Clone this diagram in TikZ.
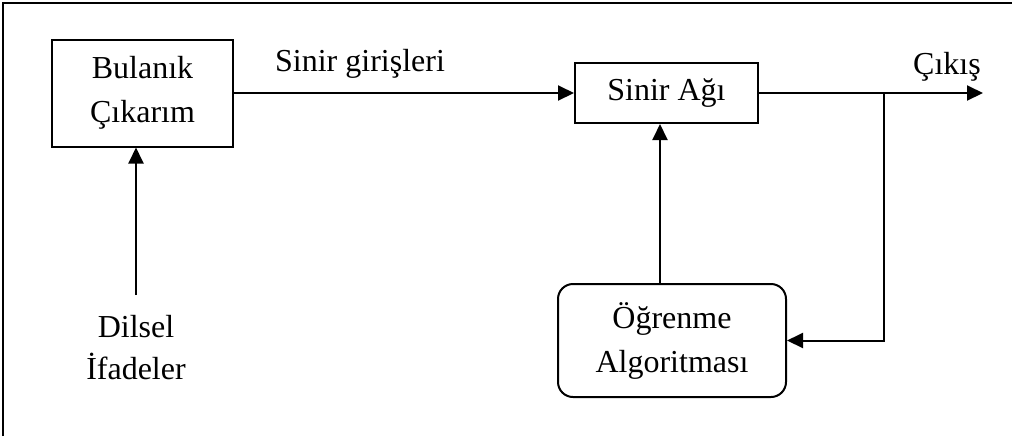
\documentclass[tikz,border=0pt]{standalone}
\usepackage{fontspec}
\setmainfont{Liberation Serif}
\usetikzlibrary{arrows.meta}
\begin{document}
\begin{tikzpicture}[x=0.5pt,y=-0.5pt,
  every node/.style={font=\fontsize{16}{21}\selectfont},
  blockbox/.style={draw,line width=1pt,inner sep=0pt,align=center,font=\fontsize{16}{22}\selectfont},
  lbl/.style={inner sep=0pt,align=center},
  conn/.style={line width=1pt},
  arr/.style={conn,-{Triangle[length=8pt,width=7.5pt]}}]
\useasboundingbox (0,0) rectangle (1012,436);
\draw[line width=1pt] (3,436) -- (3,3) -- (1012,3);
\node[blockbox,minimum width=90.5pt,minimum height=53.5pt] (bul) at (142.5,93) {Bulanık\\Çıkarım};
\node[blockbox,minimum width=91.5pt,minimum height=30pt] (sin) at (666.5,93) {Sinir Ağı};
\node[blockbox,rounded corners=7.5pt,minimum width=114pt,minimum height=56.5pt] (ogr) at (672,340.5) {Öğrenme\\Algoritması};
\node[lbl] (dil) at (136,348) {Dilsel\\İfadeler};
\node[lbl] (sg) at (360,64) {Sinir girişleri};
\node[lbl] (cik) at (947,67) {Çıkış};
\coordinate (out) at (983,93);
\coordinate (j) at (884,93);
\coordinate (vx) at (660,0);
\draw[arr] (bul.east |- sin.west) -- (sin.west);
\draw[arr] (sin.east) -- (out);
\draw[arr] (j) |- (ogr.east);
\draw[arr] (ogr.north -| vx) -- (sin.south -| vx);
\draw[arr] (dil.north |- 0,295) -- (dil.north |- bul.south);
\end{tikzpicture}
\end{document}
